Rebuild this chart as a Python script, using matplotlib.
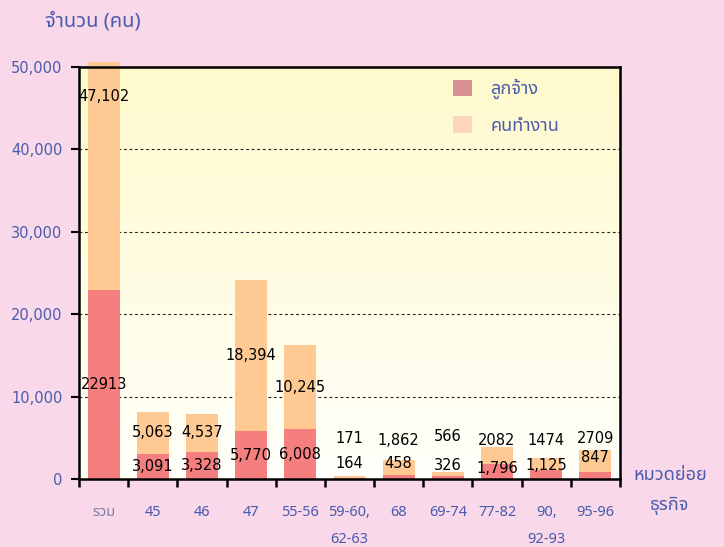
import matplotlib
matplotlib.use("Agg")
import matplotlib.pyplot as plt
import numpy as np
from matplotlib import font_manager
from matplotlib.ft2font import FT2Font
from matplotlib.patches import Patch
from matplotlib.transforms import Bbox, TransformedBbox

# ---------------- data ----------------
categories = ['รวม', '45', '46', '47', '55-56', '59-60,\n62-63', '68',
              '69-74', '77-82', '90,\n92-93', '95-96']
employees = [22913, 3091, 3328, 5770, 6008, 164, 458, 326, 1796, 1125, 847]
workers = [47102, 5063, 4537, 18394, 10245, 171, 1862, 566, 2082, 1474, 2709]
employee_labels = ['22913', '3,091', '3,328', '5,770', '6,008', '164', '458',
                   '326', '1,796', '1,125', '847']
worker_labels = ['47,102', '5,063', '4,537', '18,394', '10,245', '171', '1,862',
                 '566', '2082', '1474', '2709']
yticks = [0, 10000, 20000, 30000, 40000, 50000]
ytick_labels = ['0', '10,000', '20,000', '30,000', '40,000', '50,000']
series_names = ['ลูกจ้าง', 'คนทำงาน']

# label placement overrides for small bars (data y)
worker_label_y = {5: 4940, 6: 4700, 7: 5180, 8: 4700, 9: 4700, 10: 4940}
employee_label_y = {5: 1930, 6: 1930, 7: 1690, 8: 1325, 9: 1690, 10: 2650}

# ---------------- fonts ----------------
def find_thai_font():
    preferred = ['Noto Sans Thai', 'Noto Sans Thai UI', 'Tahoma', 'Loma',
                 'Garuda', 'Norasi', 'Kinnari', 'Sarabun', 'Noto Serif Thai']
    found = {}
    for f in font_manager.fontManager.ttflist:
        try:
            cm = FT2Font(f.fname).get_charmap()
        except Exception:
            continue
        if 0x0E01 in cm and 0x0E27 in cm:
            found.setdefault(f.name, f.fname)
    for p in preferred:
        if p in found:
            return p
    if found:
        return sorted(found)[0]
    return None

thai = find_thai_font()
fam = [thai, 'DejaVu Sans'] if thai else ['DejaVu Sans']
num_fam = ['DejaVu Sans']
plt.rcParams['font.family'] = fam

# ---------------- colours ----------------
fig_bg = '#F8D8E9'
c_emp = '#F47F7E'
c_wrk = '#FFC994'
leg_emp = '#D99194'
leg_wrk = '#FCD5BC'
blue = '#4A5BAE'

fig = plt.figure(figsize=(7.24, 5.47), dpi=100, facecolor=fig_bg)
ax = fig.add_axes([79 / 724, 1 - 479 / 547, 541 / 724, 412 / 547])

n = len(categories)
x = np.arange(n)
ax.set_xlim(-0.5, n - 0.5)
ax.set_ylim(0, 50000)

# gradient background
grad = np.linspace(0, 1, 256).reshape(-1, 1)
top = np.array([255, 250, 204]) / 255
bot = np.array([255, 255, 250]) / 255
img = top[None, None, :] * (1 - grad[..., None]) + bot[None, None, :] * grad[..., None]
ax.imshow(img, extent=[-0.5, n - 0.5, 0, 50000], aspect='auto', zorder=0,
          interpolation='bilinear')

for yv in yticks[1:-1]:
    ax.axhline(yv, color='#222222', lw=0.8, ls=(0, (2.5, 2.5)), zorder=1)

w = 0.65
b1 = ax.bar(x, employees, width=w, color=c_emp, zorder=2)
b2 = ax.bar(x, workers, width=w, bottom=employees, color=c_wrk, zorder=2)

clipbox = TransformedBbox(Bbox([[-0.5, 0], [n - 0.5, 50650]]), ax.transData)
for r in list(b1) + list(b2):
    r.set_clip_box(clipbox)
    r.set_clip_on(True)

for i in range(n):
    ye = employee_label_y.get(i, employees[i] / 2)
    yw = worker_label_y.get(i, employees[i] + workers[i] / 2)
    ax.text(x[i], ye, employee_labels[i], ha='center', va='center',
            fontsize=10.5, color='black', family=num_fam, zorder=4)
    ax.text(x[i], yw, worker_labels[i], ha='center', va='center',
            fontsize=10.5, color='black', family=num_fam, zorder=4)

for s in ax.spines.values():
    s.set_linewidth(1.8)
    s.set_color('black')
    s.set_zorder(5)

ax.set_yticks(yticks)
ax.set_yticklabels(ytick_labels, color=blue, fontsize=10.5, family=num_fam)
ax.tick_params(axis='y', direction='out', length=6, width=1.5, pad=6)

ax.set_xticks(np.arange(-0.5, n, 1.0))
ax.set_xticklabels([])
ax.tick_params(axis='x', direction='out', length=6, width=1.8)
for i, c in enumerate(categories):
    col = '#7B7FA8' if i == 0 else blue
    for j, line in enumerate(c.split('\n')):
        ax.annotate(line, xy=(x[i], 0), xycoords=('data', 'axes fraction'),
                    xytext=(0, -23.8 - 19.5 * j), textcoords='offset points',
                    ha='center', va='center', fontsize=10.5, color=col,
                    annotation_clip=False)

handles = [Patch(facecolor=leg_emp, edgecolor='none'),
           Patch(facecolor=leg_wrk, edgecolor='none')]
leg = ax.legend(handles, series_names, loc='upper left',
                bbox_to_anchor=(0.662, 1.01), frameon=False,
                handlelength=1.05, handleheight=1.05, handletextpad=1.0,
                labelspacing=0.95, fontsize=13)
for t in leg.get_texts():
    t.set_color(blue)

fig.text(45 / 724, 1 - 22 / 547, 'จำนวน (คน)', ha='left', va='center',
         fontsize=14.5, color=blue, fontweight='bold')
fig.text(670 / 724, 1 - 475 / 547, 'หมวดย่อย', ha='center', va='center',
         fontsize=13, color=blue, fontweight='bold')
fig.text(670 / 724, 1 - 506 / 547, 'ธุรกิจ', ha='center', va='center',
         fontsize=13, color=blue, fontweight='bold')

fig.savefig('out.png', dpi=100, facecolor=fig_bg)
